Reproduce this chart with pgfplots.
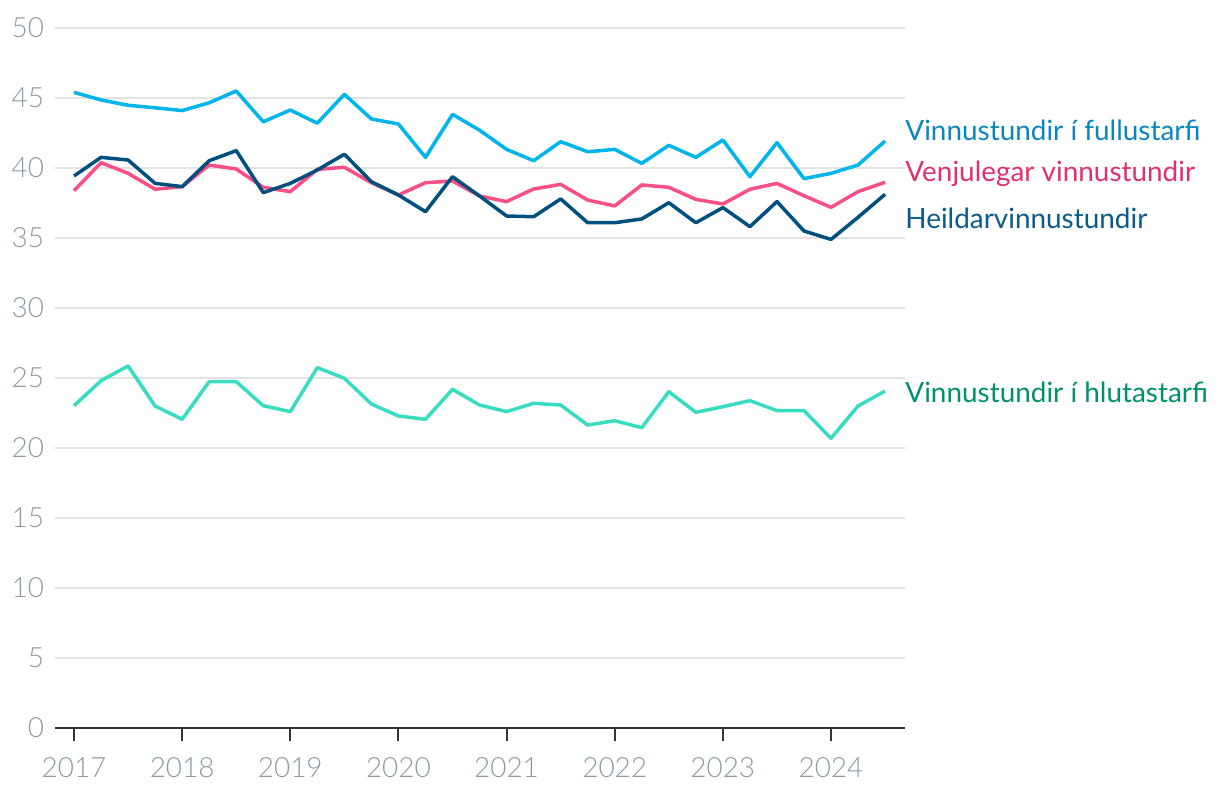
\documentclass[border=0pt]{standalone}
\usepackage{fontspec}
\setmainfont{Lato}
\newfontfamily\lightfont{Lato}[UprightFont={* Light}]
\usepackage{pgfplots}
\pgfplotsset{compat=1.18}
\definecolor{fullline}{HTML}{00B4EC}
\definecolor{fulltext}{HTML}{0A86BF}
\definecolor{venjline}{HTML}{FA4E86}
\definecolor{venjtext}{HTML}{E0306F}
\definecolor{heildline}{HTML}{00507F}
\definecolor{heildtext}{HTML}{0A5A8A}
\definecolor{hlutaline}{HTML}{38DDC1}
\definecolor{hlutatext}{HTML}{00906E}
\definecolor{tickgray}{HTML}{8A9BA5}
\definecolor{gridgray}{HTML}{E2E2E2}
\definecolor{axisdark}{HTML}{333333}
\begin{document}
\begin{tikzpicture}
\begin{axis}[
  scale only axis, width=425bp, height=350bp,
  xmin=2016.824, xmax=2024.684, ymin=0, ymax=50,
  clip=false,
  axis lines=left,
  axis line style={-},
  y axis line style={draw=none},
  x axis line style={draw=axisdark, line width=1bp},
  xtick={2017,...,2024},
  ytick={0,5,...,50},
  ymajorgrids,
  grid style={color=gridgray, line width=0.75bp},
  y tick style={draw=none},
  x tick style={draw=axisdark, line width=1bp},
  tick align=outside,
  major tick length=6.5bp,
  /pgf/number format/1000 sep={},
  /pgf/number format/assume math mode=true,
  xticklabel style={font=\lightfont\fontsize{14}{16}\selectfont, text=tickgray, yshift=-4.5bp},
  yticklabel style={font=\lightfont\fontsize{14}{16}\selectfont, text=tickgray, xshift=4.5bp},
  every axis plot/.append style={line width=1.75bp, line join=round, mark=none},
]
\coordinate (bl) at (rel axis cs:0,0);
\addplot[color=fullline] coordinates {
(2017.00,45.40) (2017.25,44.86) (2017.50,44.48) (2017.75,44.30) (2018.00,44.10)
(2018.25,44.66) (2018.50,45.50) (2018.75,43.30) (2019.00,44.14) (2019.25,43.20)
(2019.50,45.26) (2019.75,43.50) (2020.00,43.14) (2020.25,40.76) (2020.50,43.83)
(2020.75,42.70) (2021.00,41.33) (2021.25,40.52) (2021.50,41.88) (2021.75,41.16)
(2022.00,41.33) (2022.25,40.33) (2022.50,41.62) (2022.75,40.76) (2023.00,42.00)
(2023.25,39.38) (2023.50,41.81) (2023.75,39.24) (2024.00,39.62) (2024.25,40.21)
(2024.50,41.93)};
\addplot[color=venjline] coordinates {
(2017.00,38.38) (2017.25,40.38) (2017.50,39.62) (2017.75,38.48) (2018.00,38.67)
(2018.25,40.21) (2018.50,39.93) (2018.75,38.62) (2019.00,38.31) (2019.25,39.90)
(2019.50,40.05) (2019.75,38.95) (2020.00,38.07) (2020.25,38.95) (2020.50,39.07)
(2020.75,38.00) (2021.00,37.60) (2021.25,38.50) (2021.50,38.83) (2021.75,37.71)
(2022.00,37.29) (2022.25,38.79) (2022.50,38.62) (2022.75,37.76) (2023.00,37.43)
(2023.25,38.48) (2023.50,38.90) (2023.75,38.02) (2024.00,37.19) (2024.25,38.31)
(2024.50,38.98)};
\addplot[color=heildline] coordinates {
(2017.00,39.43) (2017.25,40.76) (2017.50,40.57) (2017.75,38.90) (2018.00,38.67)
(2018.25,40.52) (2018.50,41.24) (2018.75,38.24) (2019.00,38.90) (2019.25,39.86)
(2019.50,40.98) (2019.75,39.02) (2020.00,38.07) (2020.25,36.88) (2020.50,39.38)
(2020.75,38.00) (2021.00,36.57) (2021.25,36.52) (2021.50,37.79) (2021.75,36.09)
(2022.00,36.09) (2022.25,36.36) (2022.50,37.52) (2022.75,36.09) (2023.00,37.17)
(2023.25,35.81) (2023.50,37.60) (2023.75,35.50) (2024.00,34.90) (2024.25,36.48)
(2024.50,38.12)};
\addplot[color=hlutaline] coordinates {
(2017.00,23.02) (2017.25,24.81) (2017.50,25.86) (2017.75,23.00) (2018.00,22.05)
(2018.25,24.74) (2018.50,24.74) (2018.75,23.02) (2019.00,22.60) (2019.25,25.74)
(2019.50,24.98) (2019.75,23.14) (2020.00,22.29) (2020.25,22.05) (2020.50,24.19)
(2020.75,23.07) (2021.00,22.60) (2021.25,23.19) (2021.50,23.07) (2021.75,21.64)
(2022.00,21.95) (2022.25,21.45) (2022.50,24.02) (2022.75,22.55) (2023.00,22.95)
(2023.25,23.38) (2023.50,22.67) (2023.75,22.67) (2024.00,20.69) (2024.25,23.00)
(2024.50,24.07)};
\node[anchor=west, inner sep=0pt, text=fulltext, font=\fontsize{14}{16}\selectfont] at (axis cs:2024.684,42.7) {Vinnustundir í fullustarfi};
\node[anchor=west, inner sep=0pt, text=venjtext, font=\fontsize{14}{16}\selectfont] at (axis cs:2024.684,39.57) {Venjulegar vinnustundir};
\node[anchor=west, inner sep=0pt, text=heildtext, font=\fontsize{14}{16}\selectfont] at (axis cs:2024.684,36.43) {Heildarvinnustundir};
\node[anchor=west, inner sep=0pt, text=hlutatext, font=\fontsize{14}{16}\selectfont] at (axis cs:2024.684,24.0) {Vinnustundir í hlutastarfi};
\end{axis}
\path[use as bounding box] (bl) ++(-27.5bp,-33bp) rectangle ++(610bp,397bp);
\end{tikzpicture}
\end{document}
